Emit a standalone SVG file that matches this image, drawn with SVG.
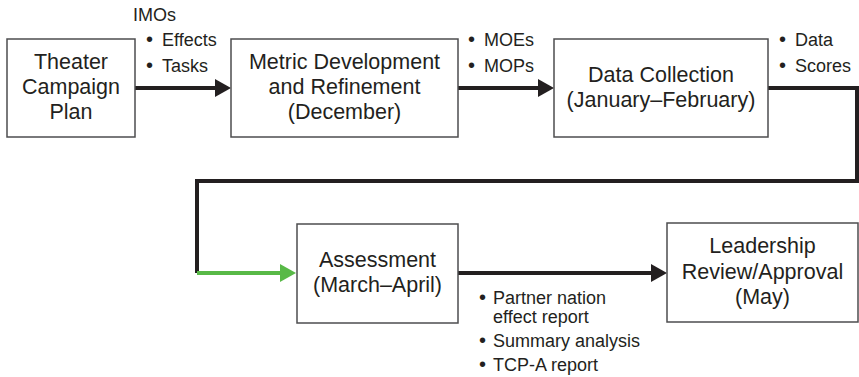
<svg xmlns="http://www.w3.org/2000/svg" width="859" height="377" viewBox="0 0 859 377">
<defs>
<style>
.box{fill:#fff;stroke:#4d4d4f;stroke-width:1.5}
.t{font-family:"Liberation Sans",Arial,sans-serif;font-size:21.5px;fill:#231f20;text-anchor:middle}
.l{font-family:"Liberation Sans",Arial,sans-serif;font-size:18px;fill:#231f20}
.b{font-size:20px}
.c{fill:none;stroke:#231f20;stroke-width:4}
.g{fill:none;stroke:#58b947;stroke-width:4}
</style>
</defs>
<rect width="859" height="377" fill="#fff"/>
<g id="connectors">
<line class="c" x1="135" y1="88" x2="216" y2="88"/>
<polygon points="215,79 231,88 215,97" fill="#231f20"/>
<line class="c" x1="458" y1="88" x2="539" y2="88"/>
<polygon points="538,79 554,88 538,97" fill="#231f20"/>
<polyline class="c" points="768,88 857,88 857,181 197,181 197,273"/>
<line class="g" x1="197" y1="273" x2="281" y2="273"/>
<polygon points="280,264 296,273 280,282" fill="#58b947"/>
<line class="c" x1="458" y1="273" x2="652" y2="273"/>
<polygon points="651,264 667,273 651,282" fill="#231f20"/>
</g>
<g id="labels">
<text class="l" x="133" y="21">IMOs</text>
<text class="l"><tspan class="b" x="146" y="46">•</tspan><tspan x="162" y="46">Effects</tspan><tspan class="b" x="146" y="72">•</tspan><tspan x="162" y="72">Tasks</tspan></text>
<text class="l"><tspan class="b" x="468" y="46">•</tspan><tspan x="484" y="46">MOEs</tspan><tspan class="b" x="468" y="72">•</tspan><tspan x="484" y="72">MOPs</tspan></text>
<text class="l"><tspan class="b" x="779" y="46">•</tspan><tspan x="795" y="46">Data</tspan><tspan class="b" x="779" y="72">•</tspan><tspan x="795" y="72">Scores</tspan></text>
<text class="l"><tspan class="b" x="479" y="304">•</tspan><tspan x="493" y="304">Partner nation</tspan><tspan x="493" y="323">effect report</tspan><tspan class="b" x="479" y="347">•</tspan><tspan x="493" y="347">Summary analysis</tspan><tspan class="b" x="479" y="371">•</tspan><tspan x="493" y="371">TCP-A report</tspan></text>
</g>
<g id="n1">
<rect class="box" x="7" y="39" width="128" height="98"/>
<text class="t"><tspan x="71" y="69">Theater</tspan><tspan x="71" y="94">Campaign</tspan><tspan x="71" y="119">Plan</tspan></text>
</g>
<g id="n2">
<rect class="box" x="231" y="39" width="227" height="98"/>
<text class="t"><tspan x="344.5" y="69">Metric Development</tspan><tspan x="344.5" y="94">and Refinement</tspan><tspan x="344.5" y="119">(December)</tspan></text>
</g>
<g id="n3">
<rect class="box" x="554" y="39" width="214" height="98"/>
<text class="t"><tspan x="661" y="82">Data Collection</tspan><tspan x="661" y="107">(January–February)</tspan></text>
</g>
<g id="n4">
<rect class="box" x="297" y="224" width="161" height="99"/>
<text class="t"><tspan x="377.5" y="267">Assessment</tspan><tspan x="377.5" y="292">(March–April)</tspan></text>
</g>
<g id="n5">
<rect class="box" x="667" y="223" width="191" height="99"/>
<text class="t"><tspan x="762.5" y="253">Leadership</tspan><tspan x="762.5" y="279">Review/Approval</tspan><tspan x="762.5" y="304">(May)</tspan></text>
</g>
</svg>
